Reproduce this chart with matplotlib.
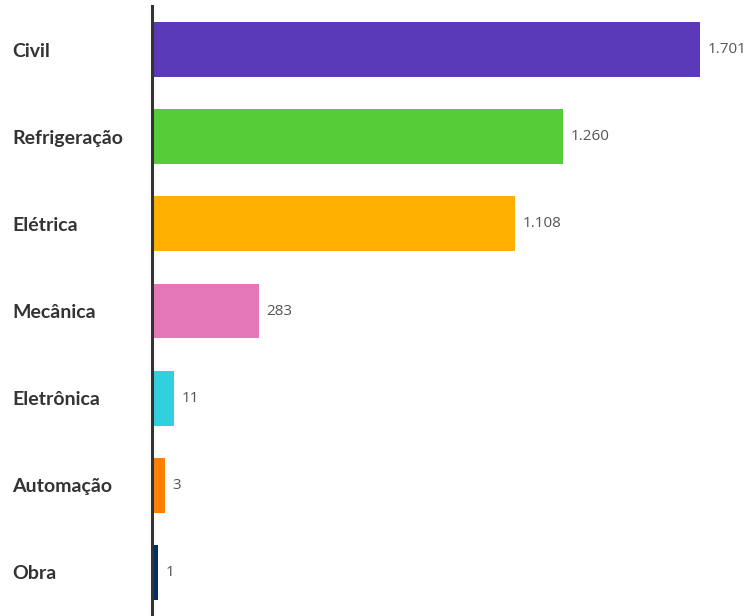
import numpy as np
import matplotlib.pyplot as plt

# dados
categorias = ['Civil', 'Refrigeração', 'Elétrica', 'Mecânica', 'Eletrônica', 'Automação', 'Obra']
valores = [1701, 1260, 1108, 283, 11, 3, 1]
cores = ['#5a3ab9', '#55cc38', '#ffb000', '#e377b8', '#30d0de', '#ff8000', '#002f63']

def fmt(v):
    return '{:,}'.format(v).replace(',', '.')

# escala que abre um pouco os valores pequenos
def fwd(x):
    x = np.asarray(x, dtype=float)
    return x + 60 * (1 - np.exp(-np.clip(x, 0, None) / 3))

def inv(y):
    y = np.asarray(y, dtype=float)
    x = y.copy()
    for _ in range(30):
        x = y - 60 * (1 - np.exp(-np.clip(x, 0, None) / 3))
    return x

fig = plt.figure(figsize=(7.46, 6.16), dpi=100)
ax = fig.add_axes([152 / 746, 0, 594 / 746, 610 / 616])
ax.set_xscale('function', functions=(fwd, inv))

y = np.arange(len(categorias))
ax.barh(y, valores, height=0.63, color=cores)
ax.set_ylim(len(categorias) - 0.5, -0.5)
ax.set_xlim(0, 1849)

for yi, v in zip(y, valores):
    ax.annotate(fmt(v), (v, yi), xytext=(5.5, 0), textcoords='offset points',
                va='center', ha='left', fontsize=11, color='#555555',
                family='Open Sans', annotation_clip=False)

ax.set_yticks(y)
ax.set_yticklabels(categorias, ha='left', fontsize=14, fontweight='bold',
                   color='#333333', family='Lato')
ax.tick_params(axis='y', length=0, pad=140 * 72 / 100)
ax.set_xticks([])
for s in ['top', 'right', 'bottom']:
    ax.spines[s].set_visible(False)
ax.spines['left'].set_linewidth(2.2)
ax.spines['left'].set_color('#333333')

fig.savefig('out.png', dpi=100)
